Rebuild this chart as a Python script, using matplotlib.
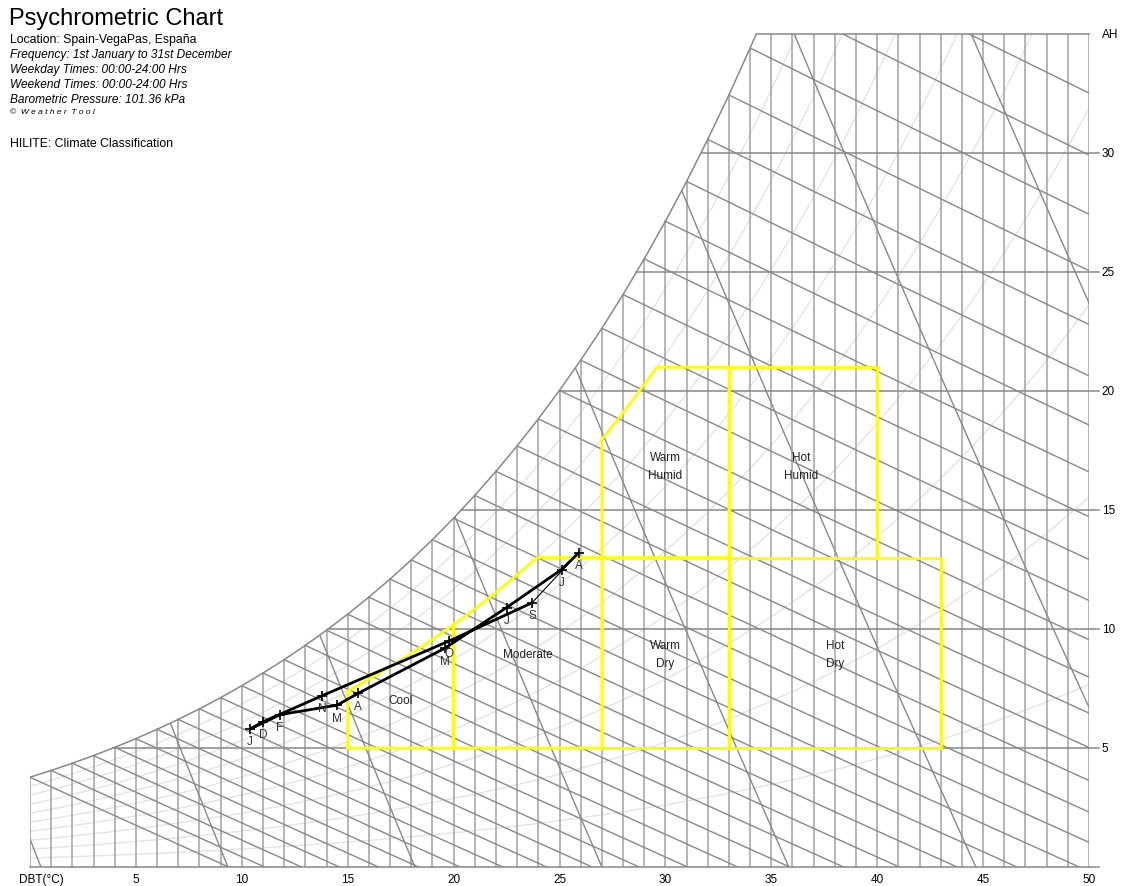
import numpy as np
import matplotlib.pyplot as plt
from matplotlib.patches import Polygon

plt.rcParams['font.family'] = ['Liberation Sans', 'DejaVu Sans']

P = 101.36  # barometric pressure, kPa

# monthly mean conditions (DBT degC, AH g/kg)
months = ['J', 'F', 'M', 'A', 'M', 'J', 'J', 'A', 'S', 'O', 'N', 'D']
month_dbt = [10.4, 11.8, 14.5, 15.5, 19.6, 22.5, 25.1, 25.9, 23.7, 19.8, 13.8, 11.0]
month_ah = [5.8, 6.4, 6.8, 7.3, 9.2, 10.9, 12.5, 13.2, 11.1, 9.5, 7.2, 6.1]

# climate classification zones
zone_names = ['Cool', 'Moderate', 'Warm\nDry', 'Warm\nHumid', 'Hot\nDry', 'Hot\nHumid']
zone_dbt = [(15, 20), (20, 27), (27, 33), (27, 33), (33, 43), (33, 40)]
zone_ah = [(5, 99), (5, 13), (5, 13), (13, 21), (5, 13), (13, 21)]
zone_rh = [0.7, 0.7, 1.0, 0.8, 1.0, 1.0]
zone_label_xy = [(17.5, 7.0), (23.5, 8.95), (30.0, 8.95), (30.0, 16.85), (38.0, 8.95), (36.4, 16.85)]

dbt_ticks = [5, 10, 15, 20, 25, 30, 35, 40, 45, 50]
ah_ticks = [5, 10, 15, 20, 25, 30]
rh_lines = [0.1, 0.2, 0.3, 0.4, 0.5, 0.6, 0.7, 0.8, 0.9]
vol_lines = [0.775, 0.8, 0.825, 0.85, 0.875, 0.9, 0.925, 0.95]
wb_lines = list(range(0, 41))

T_MAX = 50
W_MAX = 35


def pws(t):
    return 0.61094 * np.exp(17.625 * t / (t + 243.04))


def w_rh(t, phi):
    pw = phi * pws(t)
    return 622.0 * pw / (P - pw)


def w_wb(t, twb):
    ws = w_rh(twb, 1.0) / 1000.0
    w = ((2501 - 2.326 * twb) * ws - 1.006 * (t - twb)) / (2501 + 1.86 * t - 4.186 * twb)
    return w * 1000.0


fig = plt.figure(figsize=(11.25, 8.87), dpi=100)
ax = fig.add_axes([30 / 1125, 19 / 887, 1059 / 1125, 833 / 887])
ax.set_xlim(0, T_MAX)
ax.set_ylim(0, W_MAX)
ax.axis('off')

grid_c = '#888888'

# saturation curve as 1 degree segments up to the top edge
fine_t = np.linspace(0, 40, 4001)
t_top = np.interp(W_MAX, w_rh(fine_t, 1.0), fine_t)
sat_t = np.append(np.arange(0, int(t_top) + 1), t_top)
sat_w = np.minimum(w_rh(sat_t, 1.0), W_MAX)
ax.plot(sat_t, sat_w, color=grid_c, lw=1.1, zorder=3)

clip = Polygon([(0, 0)] + list(zip(sat_t, sat_w)) + [(T_MAX, W_MAX), (T_MAX, 0)],
               closed=True, transform=ax.transData, facecolor='none', edgecolor='none')
ax.add_patch(clip)

# relative humidity curves
tt = np.linspace(0, T_MAX, 300)
for phi in rh_lines:
    ln, = ax.plot(tt, w_rh(tt, phi), color='#e4e4e4', lw=1.0, zorder=1)
    ln.set_clip_path(clip)

# dry bulb lines every degree
for t in range(0, T_MAX + 1):
    top = min(np.interp(t, sat_t, sat_w), W_MAX)
    ax.plot([t, t], [0, top], color='#a2a2a2', lw=1.1, zorder=2)

# absolute humidity lines
for w in [0] + ah_ticks + [W_MAX]:
    t0 = np.interp(w, sat_w, sat_t) if w > sat_w[0] else 0
    t1 = T_MAX + 0.45 if w < W_MAX else T_MAX
    ax.plot([t0, t1], [w, w], color=grid_c, lw=1.1, zorder=2, clip_on=False)

# wet bulb lines
for twb in wb_lines:
    t = np.linspace(twb, T_MAX, 200)
    ln, = ax.plot(t, w_wb(t, twb), color=grid_c, lw=1.0, zorder=2)
    ln.set_clip_path(clip)

# specific volume lines
ww = np.linspace(0, W_MAX, 50)
for v in vol_lines:
    t = v * P / (0.287042 * (1 + 1.607858 * ww / 1000.0)) - 273.15
    ln, = ax.plot(t, ww, color=grid_c, lw=1.0, zorder=2)
    ln.set_clip_path(clip)

# climate zones
for name, (ta, tb), (wa, wb), phi, (lx, ly) in zip(zone_names, zone_dbt, zone_ah, zone_rh, zone_label_xy):
    tz = np.linspace(ta, tb, 80)
    top = np.minimum(wb, w_rh(tz, phi))
    xs = np.concatenate([[ta, tb], tz[::-1], [ta]])
    ys = np.concatenate([[wa, wa], top[::-1], [wa]])
    ax.plot(xs, ys, color='#ffff00', lw=2.0, zorder=4, solid_joinstyle='miter')
    ax.text(lx, ly, name, ha='center', va='center', fontsize=8.5, color='#222222',
            linespacing=1.75, zorder=6)

# monthly path
order = [8, 9, 10, 11, 0, 1, 2, 3, 4, 5, 6, 7]
ax.plot([month_dbt[i] for i in order], [month_ah[i] for i in order],
        color='black', lw=2.0, zorder=5, solid_capstyle='round')
ax.plot([month_dbt[7], month_dbt[8]], [month_ah[7], month_ah[8]],
        color='black', lw=0.8, zorder=5)
ax.plot(month_dbt, month_ah, ls='none', marker='+', ms=7, mew=1.2, color='black', zorder=6)
for m, t, w in zip(months, month_dbt, month_ah):
    ax.annotate(m, (t, w), xytext=(0, -9), textcoords='offset points',
                ha='center', va='center', fontsize=8.5, color='#333333', zorder=7)

# axis labels
for t in dbt_ticks:
    ax.text(t, -0.5, str(t), ha='center', va='center', fontsize=8.5, clip_on=False)
ax.text(-0.52, -0.5, 'DBT(\u00b0C)', ha='left', va='center', fontsize=8.5, clip_on=False)
for w in ah_ticks:
    ax.text(50.6, w, str(w), ha='left', va='center', fontsize=8.5, clip_on=False)
ax.text(50.6, W_MAX, 'AH', ha='left', va='center', fontsize=8.5, clip_on=False)

# header
def ftext(x, y, s, **kw):
    fig.text(x / 1125, 1 - y / 887, s, ha='left', va='center', **kw)

ftext(9, 19, 'Psychrometric Chart', fontsize=17)
ftext(10, 40, 'Location: Spain-VegaPas, Espa\u00f1a', fontsize=8.8)
ftext(10, 55, 'Frequency: 1st January to 31st December', fontsize=8.6, style='italic')
ftext(10, 70, 'Weekday Times: 00:00-24:00 Hrs', fontsize=8.6, style='italic')
ftext(10, 85, 'Weekend Times: 00:00-24:00 Hrs', fontsize=8.6, style='italic')
ftext(10, 100, 'Barometric Pressure: 101.36 kPa', fontsize=8.6, style='italic')
ftext(10, 113, '\u00a9  W e a t h e r  T o o l', fontsize=6, style='italic')
ftext(10, 144, 'HILITE: Climate Classification', fontsize=8.8)

fig.savefig('out.png', dpi=100)
